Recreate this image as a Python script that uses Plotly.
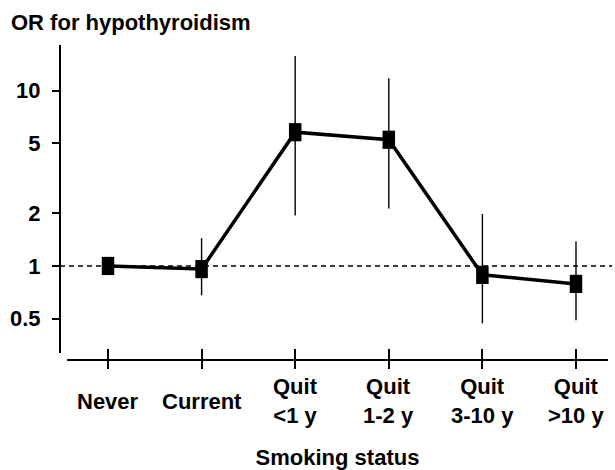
import plotly.graph_objects as go

# ---- data ----
categories = ["Never", "Current", "Quit<br>&lt;1 y", "Quit<br>1-2 y", "Quit<br>3-10 y", "Quit<br>&gt;10 y"]
odds_ratio = [1.0, 0.96, 5.8, 5.25, 0.89, 0.79]
ci_upper = [1.0, 1.44, 15.8, 11.8, 1.98, 1.38]
ci_lower = [1.0, 0.68, 1.94, 2.13, 0.47, 0.49]
y_tick_vals = [0.5, 1, 2, 5, 10]
y_tick_text = ["0.5", "1", "2", "5", "10"]

x_idx = list(range(len(categories)))
err_plus = [u - v for u, v in zip(ci_upper, odds_ratio)]
err_minus = [v - l for v, l in zip(odds_ratio, ci_lower)]

FONT = "Arial, Liberation Sans, Helvetica, sans-serif"
FS = 22

fig = go.Figure()

fig.add_trace(go.Scatter(
    x=x_idx, y=odds_ratio, mode="lines+markers",
    line=dict(color="black", width=3.5),
    marker=dict(symbol="line-ns", size=13, color="black",
                line=dict(color="black", width=12.5)),
    error_y=dict(type="data", symmetric=False, array=err_plus, arrayminus=err_minus,
                 color="black", thickness=1.4, width=0),
    showlegend=False, hoverinfo="skip",
))

# invisible trace for the overlay axis (inside part of x ticks)
fig.add_trace(go.Scatter(x=[], y=[], xaxis="x2", showlegend=False, hoverinfo="skip"))

# reference line at OR = 1
fig.add_shape(type="line", xref="paper", x0=0, x1=1.004, yref="y", y0=1, y1=1,
              line=dict(color="black", width=1.6, dash="5px,4px"), layer="below")

x_range = [-0.438, 5.342]
x_domain = [7 / 550, 548 / 550]

# category labels, vertically centred
for i, lab in enumerate(categories):
    fig.add_annotation(x=i, xref="x", y=-0.131, yref="paper", text="<b>%s</b>" % lab,
                       showarrow=False, xanchor="center", yanchor="middle",
                       font=dict(family=FONT, size=FS, color="black"))

fig.update_layout(
    width=615, height=470,
    margin=dict(l=60, r=5, t=45, b=108),
    paper_bgcolor="white", plot_bgcolor="white",
    font=dict(family=FONT, size=FS, color="black"),
    title=dict(text="<b>OR for hypothyroidism</b>", x=11 / 615, xref="container",
               xanchor="left", y=1 - 22 / 470, yref="container", yanchor="middle",
               font=dict(family=FONT, size=FS, color="black")),
    xaxis=dict(
        range=x_range, domain=x_domain, anchor="free", position=0,
        tickvals=x_idx, showticklabels=False,
        ticks="outside", ticklen=8, tickwidth=1.5, tickcolor="black",
        showline=True, linewidth=1.5, linecolor="black",
        showgrid=False, zeroline=False,
        title=dict(text="<b>Smoking status</b>", standoff=82,
                   font=dict(family=FONT, size=FS, color="black")),
    ),
    xaxis2=dict(
        range=x_range, domain=x_domain, overlaying="x", anchor="free", position=0,
        tickvals=x_idx, showticklabels=False,
        ticks="inside", ticklen=11, tickwidth=1.5, tickcolor="black",
        showline=False, showgrid=False, zeroline=False,
    ),
    yaxis=dict(
        type="log", range=[-0.497, 1.261], domain=[7 / 317, 1],
        anchor="free", position=0,
        tickvals=y_tick_vals, ticktext=["<b>%s</b>" % t for t in y_tick_text],
        ticks="outside", ticklen=7, tickwidth=1.5, tickcolor="black",
        ticklabelstandoff=7,
        showline=True, linewidth=2, linecolor="black",
        showgrid=False, zeroline=False,
        tickfont=dict(family=FONT, size=FS, color="black"),
    ),
)

fig.write_html("out.html", config={"displayModeBar": False},
               post_script="document.body.style.margin='0';")
